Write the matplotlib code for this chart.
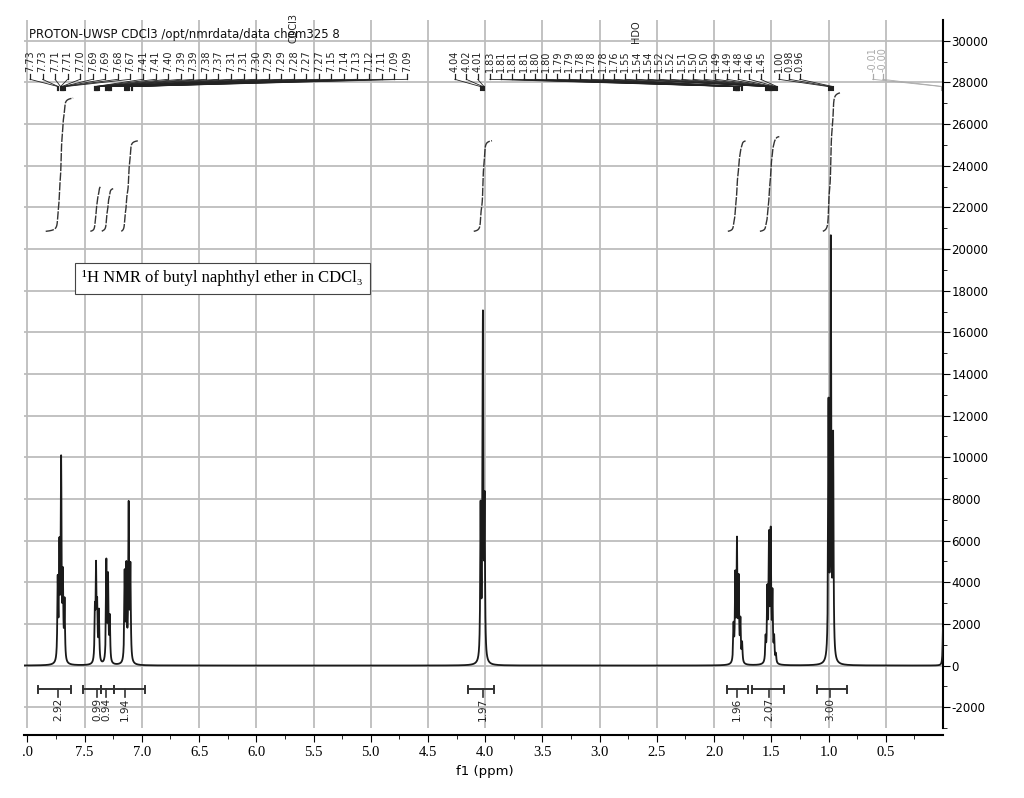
import numpy as np
import matplotlib
matplotlib.use("Agg")
import matplotlib.pyplot as plt
plt.rcParams["axes.unicode_minus"] = False

# ---- data ----
peak_ppm = [7.735, 7.72, 7.705, 7.69, 7.675,
            7.41, 7.40, 7.39, 7.375,
            7.31, 7.295, 7.28,
            7.15, 7.135, 7.115, 7.10,
            4.04, 4.02, 4.005,
            1.83, 1.815, 1.80, 1.785, 1.77, 1.755,
            1.55, 1.535, 1.52, 1.505, 1.49, 1.475, 1.46,
            1.00, 0.98, 0.96, 0.00]
peak_h = [3800, 5200, 9400, 3800, 2800,
          2300, 4300, 2400, 2400,
          4800, 4000, 2100,
          4200, 4400, 7400, 4400,
          7200, 16300, 7200,
          1700, 4000, 5600, 3800, 1900, 900,
          1100, 3300, 5800, 6000, 3100, 1100, 400,
          12000, 19800, 10400, 1800]

left_labels = ["7.73","7.73","7.71","7.71","7.70","7.69","7.69","7.68","7.67",
               "7.41","7.41","7.40","7.39","7.39","7.38","7.37",
               "7.31","7.31","7.30","7.29","7.29","7.28","7.27","7.27",
               "7.15","7.14","7.13","7.12","7.11","7.09","7.09"]
mid_labels = ["4.04","4.02","4.01"]
ali_labels = ["1.83","1.81","1.81","1.81","1.80","1.80","1.79","1.79","1.78","1.78",
              "1.78","1.76","1.55","1.54","1.54","1.52","1.52","1.51","1.50","1.50",
              "1.49","1.49","1.48","1.46","1.45"]
me_labels = ["1.00","0.98","0.96"]
tms_labels = ["-0.01","-0.00"]

integ_ranges = [(7.84, 7.60), (7.45, 7.36), (7.35, 7.25), (7.18, 7.03),
                (4.10, 3.94), (1.88, 1.72), (1.60, 1.43), (1.05, 0.90)]
integ_tops = [27250, 23000, 22900, 25200, 25200, 25200, 25400, 27500]
integ_base = 20850

int_bars = [(7.91, 7.62), (7.51, 7.36), (7.36, 7.24), (7.24, 6.97),
            (4.15, 3.92), (1.89, 1.70), (1.67, 1.39), (1.10, 0.84)]
int_vals = ["2.92", "0.99", "0.94", "1.94", "1.97", "1.96", "2.07", "3.00"]
int_lab_x = [7.73, 7.39, 7.31, 7.15, 4.02, 1.80, 1.52, 0.99]

xtick_vals = [8.0, 7.5, 7.0, 6.5, 6.0, 5.5, 5.0, 4.5, 4.0, 3.5, 3.0, 2.5, 2.0, 1.5, 1.0, 0.5]
xtick_labels = [".0", "7.5", "7.0", "6.5", "6.0", "5.5", "5.0", "4.5", "4.0", "3.5",
                "3.0", "2.5", "2.0", "1.5", "1.0", "0.5"]

# ---- figure ----
fig = plt.figure(figsize=(10.24, 7.98), dpi=100)
ax = fig.add_axes([0.0234, 0.0877, 0.8975, 0.8873])
x0, x1 = 8.03, 0.0
ax.set_xlim(x0, x1)
ax.set_ylim(-2870, 31000)

grid_c = "#bdbdbd"
for v in np.arange(0.5, 8.01, 0.5):
    ax.axvline(v, color=grid_c, lw=1.3, zorder=0)
for h in np.arange(-2000, 30001, 2000):
    ax.axhline(h, color=grid_c, lw=1.3, zorder=0)

x = np.arange(-0.01, 8.05, 0.0004)
w = 0.004
y = np.zeros_like(x)
for p, h in zip(peak_ppm, peak_h):
    y += h * w**2 / ((x - p)**2 + w**2)
ax.plot(x, y, color="#1a1a1a", lw=1.3, zorder=3)

# integral curves
for (a, b), top in zip(integ_ranges, integ_tops):
    m = (x <= a) & (x >= b)
    xs = x[m][::-1]
    ys = y[m][::-1]
    c = np.cumsum(ys)
    c = c / c[-1]
    ax.plot(xs, integ_base + c * (top - integ_base), color="#333333", lw=1.0,
            ls=(0, (6, 1)), zorder=3)

# integration bars
yb = -1150
for (a, b), lab, lx in zip(int_bars, int_vals, int_lab_x):
    ax.plot([a, b], [yb, yb], color="#333333", lw=1.4)
    for e in (a, b):
        ax.plot([e, e], [yb - 180, yb + 180], color="#333333", lw=1.4)
    ax.plot([lx, lx], [yb, yb - 350], color="#333333", lw=1.2)
    ax.text(lx, yb - 400, lab, rotation=90, ha="center", va="top", fontsize=7.5,
            color="#222222")

# peak labels
def label_group(labels, px_start, px_end, color="#222222"):
    n = len(labels)
    xs_lab = np.linspace(px_start, px_end, n)
    for lp, s in zip(xs_lab, labels):
        val = abs(float(s))
        ax.text(lp, 28500, s, rotation=90, ha="center", va="bottom", fontsize=7,
                color=color)
        ax.plot([lp, lp], [28400, 28150], color=color, lw=0.9)
        ax.plot([lp, val], [28150, 27800], color=color, lw=0.6)
        ax.plot([val, val], [27800, 27650], color=color, lw=1.5)

def px2ppm(px):
    return x0 - (px - 24) / 114.5 * 1.0

label_group(left_labels, px2ppm(30), px2ppm(407))
label_group(mid_labels, px2ppm(455), px2ppm(478))
label_group(ali_labels, px2ppm(490), px2ppm(761))
label_group(me_labels, px2ppm(779), px2ppm(800))
label_group(tms_labels, px2ppm(873), px2ppm(883), color="#aaaaaa")
ax.text(px2ppm(30 + 21 * (377 / 30)), 29900, "CDCl3", rotation=90, ha="center",
        va="bottom", fontsize=7, color="#222222")
ax.text(px2ppm(490 + 13 * (271 / 24)), 29900, "HDO", rotation=90, ha="center",
        va="bottom", fontsize=7, color="#222222")

ax.text(7.99, 30300, "PROTON-UWSP CDCl3 /opt/nmrdata/data chem325 8", fontsize=8.5,
        ha="left", va="center", color="#111111", zorder=5)

ax.text(7.52, 18600, "¹H NMR of butyl naphthyl ether in CDCl₃",
        family=["Liberation Serif", "DejaVu Serif"], fontsize=12, ha="left",
        va="center", zorder=6,
        bbox=dict(boxstyle="square,pad=0.45", fc="white", ec="#444444", lw=0.8))

# axes styling
for s in ["top", "left"]:
    ax.spines[s].set_visible(False)
ax.spines["right"].set_linewidth(1.5)
ax.spines["bottom"].set_position(("outward", 5))
ax.spines["bottom"].set_linewidth(1.5)
ax.yaxis.tick_right()
ax.set_yticks(np.arange(-2000, 30001, 2000))
ax.set_yticks(np.arange(-3000, 31000, 1000), minor=True)
ax.tick_params(axis="y", which="major", length=5, labelsize=8.5, pad=1)
ax.tick_params(axis="y", which="minor", length=3)
ax.set_xticks(xtick_vals)
ax.set_xticks(np.arange(0.25, 8.01, 0.25), minor=True)
ax.set_xticklabels(xtick_labels, family=["Liberation Serif"], fontsize=10.5)
ax.tick_params(axis="x", which="major", length=5, pad=3)
ax.tick_params(axis="x", which="minor", length=3)
ax.text(4.0, -0.052, "f1 (ppm)", transform=ax.get_xaxis_transform(), ha="center",
        va="top", fontsize=9.5)

fig.savefig("out.png", dpi=100)
